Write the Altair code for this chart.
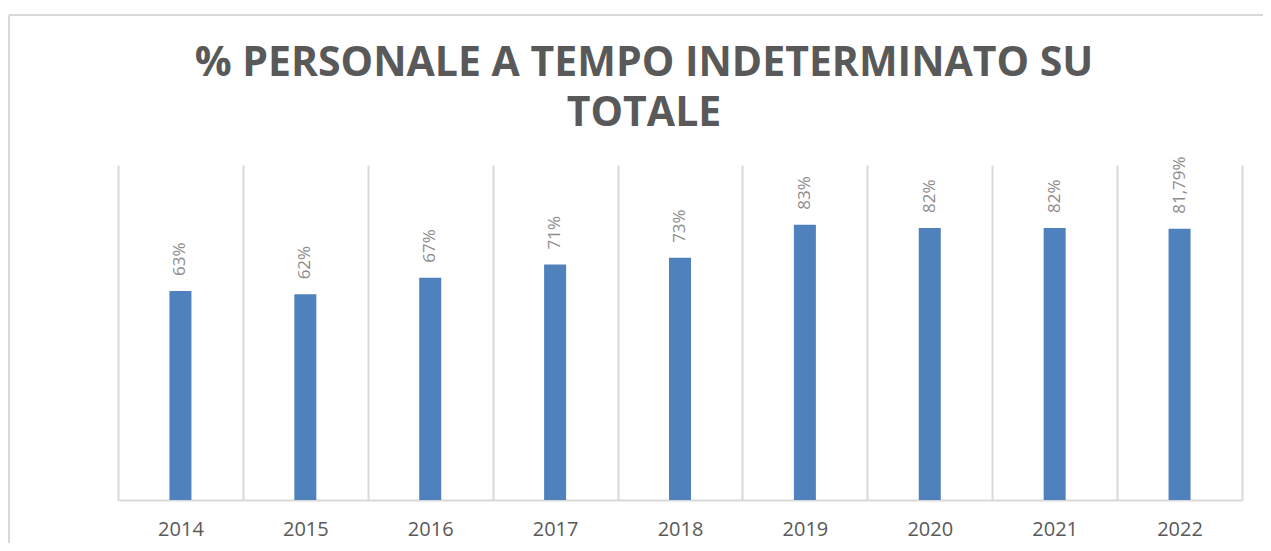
import altair as alt
import pandas as pd

years = ["2014", "2015", "2016", "2017", "2018", "2019", "2020", "2021", "2022"]
values = [0.63, 0.62, 0.67, 0.71, 0.73, 0.83, 0.82, 0.82, 0.8179]
labels = ["63%", "62%", "67%", "71%", "73%", "83%", "82%", "82%", "81,79%"]

df = pd.DataFrame({"anno": years, "valore": values, "etichetta": labels})

FONT = "Open Sans"
GRID = "#d9d9d9"

x_enc = alt.X(
    "anno:N",
    sort=years,
    title=None,
    scale=alt.Scale(paddingInner=0, paddingOuter=0),
    axis=alt.Axis(
        labelAngle=0,
        labelFont=FONT,
        labelFontSize=20,
        labelColor="#595959",
        labelPadding=19,
        ticks=False,
        tickBand="extent",
        grid=True,
        gridColor=GRID,
        gridWidth=2,
        domainColor=GRID,
        domainWidth=2,
    ),
)
y_enc = alt.Y("valore:Q", scale=alt.Scale(domain=[0, 1.01]), axis=None)

base = alt.Chart(df).encode(x=x_enc, y=y_enc)

bars = base.mark_bar(color="#4F81BD", width=22)

text = base.mark_text(
    angle=270, align="left", baseline="middle", dx=15,
    font=FONT, fontSize=17, color="#8c8c8c",
).encode(text="etichetta:N")

frame_top = alt.Chart(df).mark_rule(color=GRID, strokeWidth=2).encode(
    x=alt.value(-109), x2=alt.value(1153), y=alt.value(-150)
)
frame_left = alt.Chart(df).mark_rule(color=GRID, strokeWidth=2).encode(
    x=alt.value(-109), y=alt.value(-150), y2=alt.value(386)
)

chart = (
    alt.layer(frame_top, frame_left, bars, text)
    .properties(
        width=1124,
        height=335,
        autosize=alt.AutoSizeParams(type="none"),
        padding={"left": 110, "top": 157, "right": 21, "bottom": 43},
        title=alt.TitleParams(
            text=["% PERSONALE A TEMPO INDETERMINATO SU", "TOTALE"],
            font=FONT,
            fontSize=41,
            fontWeight="bold",
            color="#595959",
            anchor="middle",
            frame="group",
            dx=-36,
            dy=153,
            offset=32,
            lineHeight=50,
        ),
    )
    .configure_view(stroke=None)
)

chart.save("out.html", embed_options={"renderer": "svg", "actions": False})
